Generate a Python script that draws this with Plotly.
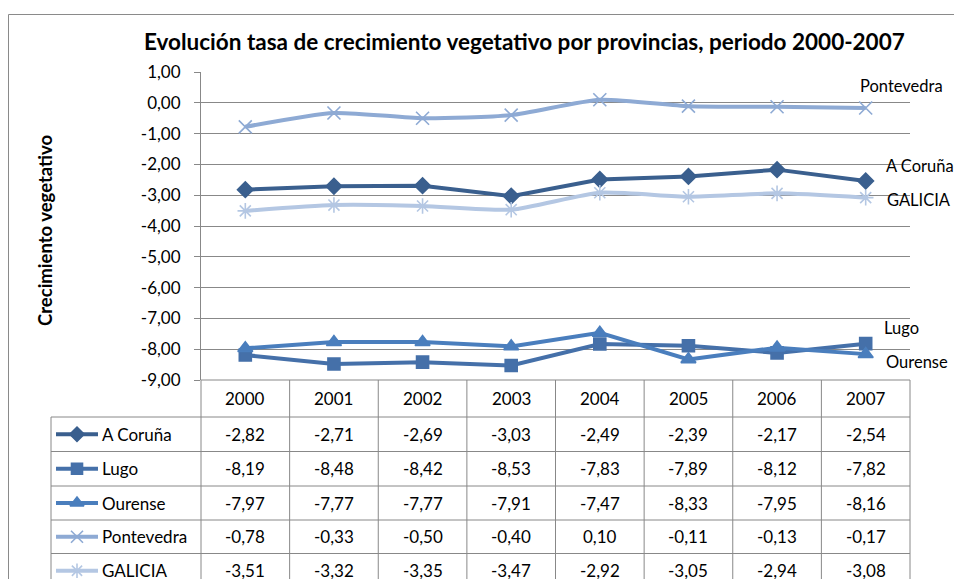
import plotly.graph_objects as go

W, H = 962, 579
OFF = 8  # the page body adds an 8px margin; pixel targets are measured in the window

years = ["2000", "2001", "2002", "2003", "2004", "2005", "2006", "2007"]
series_names = ["A Coruña", "Lugo", "Ourense", "Pontevedra", "GALICIA"]
a_coruna = [-2.82, -2.71, -2.69, -3.03, -2.49, -2.39, -2.17, -2.54]
lugo = [-8.19, -8.48, -8.42, -8.53, -7.83, -7.89, -8.12, -7.82]
ourense = [-7.97, -7.77, -7.77, -7.91, -7.47, -8.33, -7.95, -8.16]
pontevedra = [-0.78, -0.33, -0.50, -0.40, 0.10, -0.11, -0.13, -0.17]
galicia = [-3.51, -3.32, -3.35, -3.47, -2.92, -3.05, -2.94, -3.08]
y_ticks = [1, 0, -1, -2, -3, -4, -5, -6, -7, -8, -9]

values = [a_coruna, lugo, ourense, pontevedra, galicia]
colors = ["#3A5F8E", "#4570A9", "#4A7EBD", "#8EAAD4", "#B4C7E3"]
symbols = ["diamond", "square", "triangle-up", "x-thin-open", "asterisk-open"]
msizes = [12, 12, 13, 13, 13]
shapes_line = ["linear", "linear", "linear", "spline", "spline"]

FONT = "Lato"
GRID = "#888888"
TXT = 17

def fmt(v):
    return f"{v:.2f}".replace(".", ",")

def px(x):
    return (x - OFF) / W

def py(y):
    return 1 - (y - OFF) / H

# plot area in window pixels
PL, PR, PT, PB = 201, 910, 72, 380
n = len(years)
colw = (PR - PL) / n
row_tops = [380, 417, 451.5, 486, 520, 553.5, 588]

fig = go.Figure()

for i, name in enumerate(series_names):
    fig.add_trace(go.Scatter(
        x=list(range(n)), y=values[i], mode="lines+markers", name=name,
        line=dict(color=colors[i], width=4, shape=shapes_line[i], smoothing=0.6),
        marker=dict(symbol=symbols[i], size=msizes[i], color=colors[i],
                    line=dict(color=colors[i], width=1.6)),
        xaxis="x", yaxis="y", showlegend=False, hoverinfo="skip"))

# legend keys in the table (pixel overlay axis covering the whole paper)
for i, name in enumerate(series_names):
    yc = (row_tops[i + 1] + row_tops[i + 2]) / 2
    fig.add_trace(go.Scatter(
        x=[56, 98], y=[yc, yc], mode="lines",
        line=dict(color=colors[i], width=4), xaxis="x2", yaxis="y2",
        showlegend=False, hoverinfo="skip", cliponaxis=False))
    fig.add_trace(go.Scatter(
        x=[77], y=[yc], mode="markers",
        marker=dict(symbol=symbols[i], size=msizes[i] - 1, color=colors[i],
                    line=dict(color=colors[i], width=1.6)),
        xaxis="x2", yaxis="y2", showlegend=False, hoverinfo="skip", cliponaxis=False))

shapes = []
# outer border
shapes.append(dict(type="rect", xref="paper", yref="paper",
                   x0=px(8.5), x1=1, y0=0, y1=py(14.5),
                   line=dict(color="#8A8A8A", width=1)))
# table horizontal lines
for k, yt in enumerate(row_tops[:-1]):
    x0 = PL if k == 0 else 51
    shapes.append(dict(type="line", xref="paper", yref="paper",
                       x0=px(x0), x1=px(PR), y0=py(yt), y1=py(yt),
                       line=dict(color=GRID, width=1)))
# table vertical lines
for k in range(n + 1):
    xv = PL + k * colw
    shapes.append(dict(type="line", xref="paper", yref="paper",
                       x0=px(xv), x1=px(xv), y0=py(380), y1=0,
                       line=dict(color=GRID, width=1)))
shapes.append(dict(type="line", xref="paper", yref="paper",
                   x0=px(51), x1=px(51), y0=py(417), y1=0,
                   line=dict(color=GRID, width=1)))

annotations = []
# title
annotations.append(dict(text="<b>Evolución tasa de crecimiento vegetativo por provincias, periodo 2000-2007</b>",
                        xref="paper", yref="paper", x=px(524), y=py(42),
                        showarrow=False, font=dict(family=FONT, size=22.5, color="#000000"),
                        xanchor="center", yanchor="middle"))
# y-axis title
annotations.append(dict(text="<b>Crecimiento vegetativo</b>", textangle=-90,
                        xref="paper", yref="paper", x=px(45), y=py(231),
                        showarrow=False, font=dict(family=FONT, size=18.5, color="#000000"),
                        xanchor="center", yanchor="middle"))
# header years
for j, yr in enumerate(years):
    annotations.append(dict(text=yr, xref="paper", yref="paper",
                            x=px(PL + (j + 0.5) * colw), y=py((row_tops[0] + row_tops[1]) / 2),
                            showarrow=False, font=dict(family=FONT, size=TXT, color="#000000"),
                            xanchor="center", yanchor="middle"))
# table values and row labels
for i, name in enumerate(series_names):
    yc = (row_tops[i + 1] + row_tops[i + 2]) / 2
    annotations.append(dict(text=name, xref="paper", yref="paper",
                            x=px(100), y=py(yc), showarrow=False,
                            font=dict(family=FONT, size=TXT, color="#000000"),
                            xanchor="left", yanchor="middle"))
    for j in range(n):
        annotations.append(dict(text=fmt(values[i][j]), xref="paper", yref="paper",
                                x=px(PL + (j + 0.5) * colw), y=py(yc), showarrow=False,
                                font=dict(family=FONT, size=TXT, color="#000000"),
                                xanchor="center", yanchor="middle"))
# series labels on right
right_labels = [("Pontevedra", 858, 86), ("A Coruña", 884, 166), ("GALICIA", 885, 200),
                ("Lugo", 882, 328), ("Ourense", 884, 362)]
for txt, xl, yl in right_labels:
    annotations.append(dict(text=txt, xref="paper", yref="paper", x=px(xl), y=py(yl),
                            showarrow=False, font=dict(family=FONT, size=16.5, color="#000000"),
                            xanchor="left", yanchor="middle"))

fig.update_layout(
    width=W, height=H, margin=dict(l=0, r=0, t=0, b=0, pad=0), autosize=False,
    paper_bgcolor="white", plot_bgcolor="rgba(0,0,0,0)",
    font=dict(family=FONT, size=TXT, color="#000000"), showlegend=False,
    xaxis=dict(domain=[px(PL), px(PR)], range=[-0.5, n - 0.5], showticklabels=False,
               showgrid=False, zeroline=False, ticks="", showline=False, fixedrange=True,
               automargin=False),
    yaxis=dict(domain=[py(PB), py(PT)], range=[-9, 1], tickvals=y_ticks,
               ticktext=[fmt(v) for v in y_ticks],
               showgrid=True, gridcolor=GRID, gridwidth=1, zeroline=False,
               showline=True, linecolor=GRID, linewidth=1,
               ticks="outside", ticklen=6, tickcolor=GRID, automargin=False,
               tickfont=dict(family=FONT, size=TXT, color="#000000"), ticklabelstandoff=10),
    xaxis2=dict(domain=[0, 1], range=[OFF, W + OFF], visible=False, anchor="y2", automargin=False),
    yaxis2=dict(domain=[0, 1], range=[H + OFF, OFF], visible=False, anchor="x2", automargin=False),
    shapes=shapes, annotations=annotations,
)

fig.write_html("out.html")
